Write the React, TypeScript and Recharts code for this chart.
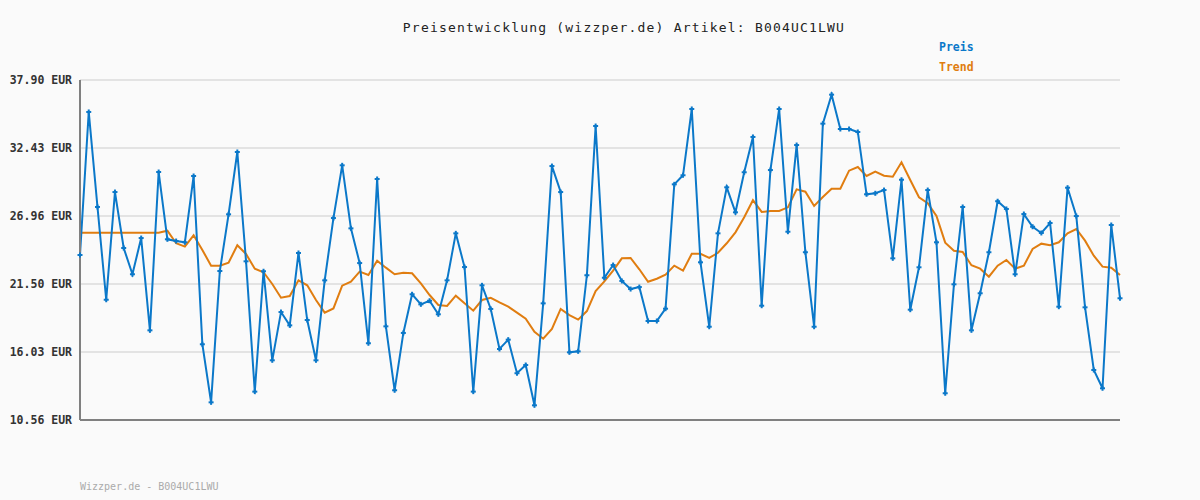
import React from "react";
import { LineChart, Line, XAxis, YAxis, CartesianGrid, ReferenceLine } from "recharts";

const titleText = "Preisentwicklung (wizzper.de) Artikel: B004UC1LWU";
const footerText = "Wizzper.de - B004UC1LWU";
const yTicks = [10.56, 16.03, 21.5, 26.96, 32.43, 37.9];

const preis = [
  23.83, 35.33, 27.69, 20.23, 28.89, 24.39, 22.28, 25.19, 17.77, 30.5,
  25.09, 24.95, 24.85, 30.18, 16.65, 11.98, 22.54, 27.1, 32.11, 23.32,
  12.84, 22.52, 15.36, 19.24, 18.17, 23.99, 18.6, 15.36, 21.79, 26.8,
  31.04, 25.97, 23.18, 16.73, 29.94, 18.09, 12.95, 17.56, 20.67, 19.86,
  20.15, 19.06, 21.79, 25.57, 22.86, 12.84, 21.39, 19.49, 16.27, 17.02,
  14.32, 14.98, 11.74, 19.94, 30.98, 28.89, 16.0, 16.08, 22.2, 34.2,
  22.0, 23.02, 21.74, 21.09, 21.25, 18.52, 18.52, 19.51, 29.51, 30.24,
  35.57, 23.24, 18.06, 25.57, 29.27, 27.26, 30.48, 33.32, 19.75, 30.66,
  35.57, 25.7, 32.67, 24.05, 18.06, 34.39, 36.72, 33.96, 33.96, 33.72,
  28.71, 28.79, 29.05, 23.56, 29.88, 19.43, 22.84, 29.05, 24.85, 12.71,
  21.47, 27.69, 17.77, 20.75, 24.05, 28.15, 27.53, 22.28, 27.12, 26.1,
  25.6, 26.4, 19.67, 29.24, 26.96, 19.62, 14.58, 13.11, 26.24, 20.35,
];

const trend = [
  25.62, 25.62, 25.62, 25.62, 25.62, 25.62, 25.62, 25.62, 25.62, 25.62,
  25.78, 24.77, 24.5, 25.41, 24.23, 22.97, 22.97, 23.21, 24.61, 23.91,
  22.73, 22.44, 21.5, 20.39, 20.53, 21.79, 21.39, 20.21, 19.19, 19.53,
  21.36, 21.68, 22.49, 22.22, 23.37, 22.81, 22.28, 22.4, 22.36, 21.55,
  20.61, 19.81, 19.73, 20.56, 19.94, 19.35, 20.21, 20.39, 20.02, 19.67,
  19.19, 18.71, 17.66, 17.1, 17.88, 19.49, 19.0, 18.63, 19.32, 20.93,
  21.71, 22.57, 23.56, 23.59, 22.68, 21.68, 21.92, 22.24, 22.97, 22.57,
  23.93, 23.93, 23.59, 24.01, 24.77, 25.65, 26.86, 28.23, 27.29, 27.37,
  27.37, 27.66, 29.11, 28.92, 27.77, 28.49, 29.16, 29.16, 30.61, 30.9,
  30.18, 30.53, 30.2, 30.12, 31.28, 29.86, 28.47, 27.99, 26.96, 24.82,
  24.17, 24.07, 23.0, 22.73, 22.08, 22.97, 23.43, 22.73, 22.97, 24.31,
  24.74, 24.61, 24.85, 25.57, 25.92, 24.98, 23.77, 22.89, 22.81, 22.22,
];

const data = preis.map((p, i) => ({ i, preis: p, trend: trend[i] }));

const BLUE = "#0b78c9";
const ORANGE = "#e07d10";
const MONO = "'DejaVu Sans Mono', 'Liberation Mono', monospace";

const PlusDot = (props: any) => {
  const { cx, cy } = props;
  if (cx == null || cy == null) return null;
  return (
    <g>
      <line x1={cx - 2.5} y1={cy} x2={cx + 2.5} y2={cy} stroke={BLUE} strokeWidth={2} />
      <line x1={cx} y1={cy - 2.5} x2={cx} y2={cy + 2.5} stroke={BLUE} strokeWidth={2} />
    </g>
  );
};

export default function App() {
  return (
    <div style={{ position: "absolute", left: 0, top: 0, width: 1200, height: 500, background: "#fafafa", fontFamily: MONO }}>
      <div style={{ position: "absolute", left: 0, width: 1248, top: 19, textAlign: "center", fontSize: 13, letterSpacing: 1.2, color: "#222", lineHeight: "18px" }}>
        {titleText}
      </div>
      <div style={{ position: "absolute", left: 939, top: 39, fontSize: 11.5, fontWeight: "bold", color: BLUE, lineHeight: "16px" }}>Preis</div>
      <div style={{ position: "absolute", left: 939, top: 59, fontSize: 11.5, fontWeight: "bold", color: ORANGE, lineHeight: "16px" }}>Trend</div>
      <div style={{ position: "absolute", left: 80, top: 480, fontSize: 10, color: "#aaaaaa", lineHeight: "14px" }}>{footerText}</div>
      <div style={{ position: "absolute", left: 0, top: 0 }}>
        <LineChart width={1200} height={500} data={data} margin={{ top: 80, right: 80, bottom: 80, left: 0 }}>
          <CartesianGrid horizontal={true} vertical={false} stroke="#e3e3e3" strokeWidth={2} />
          <XAxis dataKey="i" type="number" domain={[0, 119]} hide />
          <YAxis
            type="number"
            domain={[10.56, 37.9]}
            ticks={yTicks}
            width={80}
            interval={0}
            tickSize={0}
            tickMargin={8}
            axisLine={{ stroke: "#808080", strokeWidth: 2 }}
            tickLine={false}
            tick={{ fill: "#333", fontSize: 11.5, fontWeight: "bold", fontFamily: MONO }}
            tickFormatter={(v: number) => v.toFixed(2) + " EUR"}
          />
          <ReferenceLine y={10.56} stroke="#808080" strokeWidth={2} />
          <Line type="linear" dataKey="trend" stroke={ORANGE} strokeWidth={2} dot={false} isAnimationActive={false} />
          <Line type="linear" dataKey="preis" stroke={BLUE} strokeWidth={2} dot={<PlusDot />} activeDot={false} isAnimationActive={false} />
        </LineChart>
      </div>
    </div>
  );
}
